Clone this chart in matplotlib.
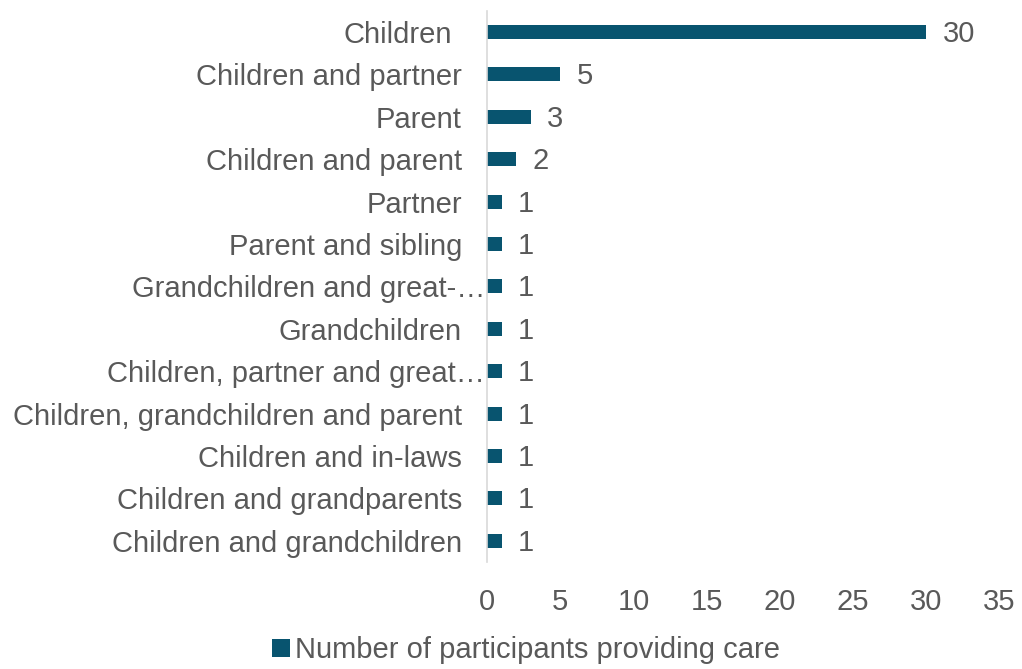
import matplotlib
matplotlib.use("Agg")
import matplotlib.pyplot as plt
import matplotlib.transforms as mtransforms
import numpy as np

plt.rcParams['font.family'] = ['Liberation Sans', 'DejaVu Sans']

categories = [
    "Children",
    "Children and partner",
    "Parent",
    "Children and parent",
    "Partner",
    "Parent and sibling",
    "Grandchildren and great-\u2026",
    "Grandchildren",
    "Children, partner and great\u2026",
    "Children, grandchildren and parent",
    "Children and in-laws",
    "Children and grandparents",
    "Children and grandchildren",
]
counts = [30, 5, 3, 2, 1, 1, 1, 1, 1, 1, 1, 1, 1]
series_name = "Number of participants providing care"

bar_color = "#08546f"
text_color = "#595959"
fs = 21

fig = plt.figure(figsize=(10.22, 6.69), dpi=100)
ax = fig.add_axes([0.4765, 0.160, 0.5015, 0.824])

y = np.arange(len(categories))
ax.barh(y, counts, height=0.33, color=bar_color, label=series_name)
ax.set_yticks(y)
ax.set_yticklabels(categories, fontsize=fs, color=text_color)
ax.set_ylim(len(categories) - 0.5, -0.5)

ax.set_xlim(0, 35)
ax.set_xticks(range(0, 36, 5))
ax.tick_params(axis='x', labelsize=fs, colors=text_color, length=0, pad=19)
ax.tick_params(axis='y', length=0, pad=18)

# truncated labels run over the axis a bit, like in the original
for lab in ax.get_yticklabels():
    txt = lab.get_text()
    dx = 0
    if txt.endswith("\u2026"):
        dx = 23
    elif txt == "Children":
        dx = -10
    if dx:
        lab.set_transform(lab.get_transform() +
                          mtransforms.ScaledTranslation(dx / 100, 0, fig.dpi_scale_trans))

for v, yy in zip(counts, y):
    ax.text(v + 1.1, yy + 0.05, str(v), va='center', ha='left', fontsize=fs, color=text_color)

for s in ['top', 'right', 'bottom']:
    ax.spines[s].set_visible(False)
ax.spines['left'].set_color('#d9d9d9')
ax.spines['left'].set_linewidth(1.2)

leg = fig.legend(loc='lower center', bbox_to_anchor=(0.515, -0.032), frameon=False,
                 fontsize=fs, handlelength=0.6, handleheight=0.6, handletextpad=0.2)
for t in leg.get_texts():
    t.set_color(text_color)

fig.savefig("out.png", dpi=100)
